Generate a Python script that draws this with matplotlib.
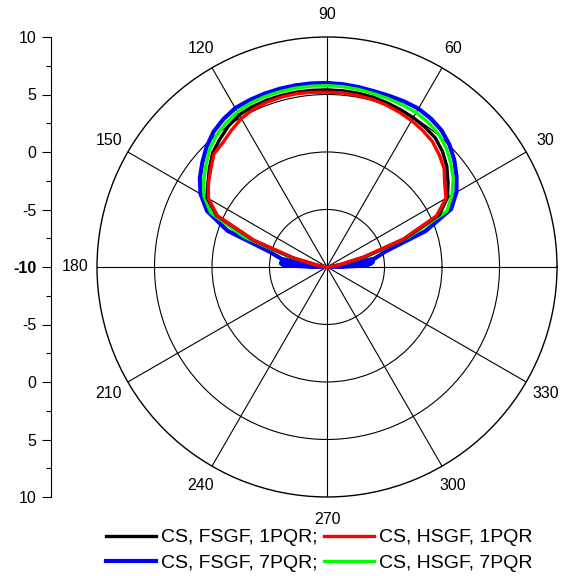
import numpy as np
import matplotlib
matplotlib.use('Agg')
import matplotlib.pyplot as plt

plt.rcParams['font.family'] = ['Liberation Sans', 'DejaVu Sans']

# angles in degrees, gain in dB
angles = [0, 5, 10, 15, 20, 25, 30, 35, 40, 45, 50, 55, 60, 65, 70, 75, 80, 85, 90,
          95, 100, 105, 110, 115, 120, 125, 130, 135, 140, 145, 150, 155, 160, 165, 170, 175, 180]

cs_fsgf_1pqr = [-10, -9.7, -8.8, -6.6, -2.8, 0.8, 2.1, 2.85, 3.6, 4.2, 4.65, 4.85, 5.0, 5.1, 5.2, 5.3, 5.35, 5.38, 5.4,
                5.42, 5.43, 5.43, 5.42, 5.38, 5.27, 4.95, 4.5, 4.05, 3.35, 2.65, 2.05, 0.6, -3.2, -6.9, -9.2, -10, -10]

cs_hsgf_1pqr = [-10, -9.7, -8.9, -6.8, -3.0, 0.5, 1.95, 2.5, 3.3, 3.8, 4.25, 4.5, 4.7, 4.85, 5.0, 5.1, 5.15, 5.2, 5.2,
                5.25, 5.3, 5.3, 5.25, 5.15, 4.9, 4.5, 4.1, 3.9, 3.2, 2.6, 1.9, 0.5, -3.3, -7.0, -9.2, -10, -10]

cs_hsgf_7pqr = [-10, -9.7, -8.6, -6.3, -2.5, 1.5, 2.55, 3.4, 4.05, 4.65, 5.1, 5.35, 5.5, 5.55, 5.57, 5.6, 5.68, 5.74, 5.77,
                5.78, 5.79, 5.78, 5.77, 5.72, 5.58, 5.3, 4.95, 4.45, 3.75, 3.1, 2.35, 1.15, -2.3, -6.5, -9.0, -10, -10]

blue_angles = [0, 1, 2, 3, 4, 5, 6, 7, 8, 9, 10, 15, 20, 25, 30, 35, 40, 45, 50, 55, 60, 65, 70, 75, 80, 85, 90,
               95, 100, 105, 110, 115, 120, 125, 130, 135, 140, 145, 150, 155, 160, 165, 170,
               171, 172, 173, 174, 175, 176, 177, 178, 179, 180]
cs_fsgf_7pqr = [-10, -9.5, -6.5, -9, -6.2, -8.5, -6, -8, -6, -7, -5.8, -4.7, -0.9, 1.9, 3.0, 3.75, 4.45, 5.05, 5.5, 5.75,
                5.9, 5.88, 5.83, 5.82, 5.88, 5.95, 6.0,
                6.02, 6.03, 6.03, 6.02, 6.0, 5.95, 5.7, 5.35, 4.8, 4.15, 3.5, 2.7, 1.5, -0.8, -4.8, -6.0,
                -8.5, -6.2, -8.8, -6.0, -8.5, -6.0, -9, -6.2, -9.5, -10]

fig = plt.figure(figsize=(5.74, 5.76), dpi=100)

ax = fig.add_axes([0.169, 0.1372, 0.8014, 0.7986], projection='polar')
ax.set_ylim(-10, 10)
ax.set_yticks([-5, 0, 5])
ax.set_yticklabels([])
ax.set_xticks(np.deg2rad(np.arange(0, 360, 30)))
ax.set_xticklabels([str(a) for a in range(0, 360, 30)], fontsize=11.5)
ax.set_xticks(np.deg2rad(np.arange(15, 360, 30)), minor=True)
ax.tick_params(axis='x', which='major', length=0, pad=9)
ax.tick_params(axis='x', which='minor', direction='in', length=5, width=0.8)
ax.tick_params(axis='y', length=0)
ax.grid(True, color='black', linewidth=0.8)
ax.spines['polar'].set_linewidth(1.0)

l_blue, = ax.plot(np.deg2rad(blue_angles), cs_fsgf_7pqr, color='#0000ff', lw=3.0)
l_green, = ax.plot(np.deg2rad(angles), cs_hsgf_7pqr, color='#00ff00', lw=2.4)
l_black, = ax.plot(np.deg2rad(angles), cs_fsgf_1pqr, color='black', lw=2.4)
l_red, = ax.plot(np.deg2rad(angles), cs_hsgf_1pqr, color='#ff0000', lw=2.4)

# left scale, Origin style
ax2 = fig.add_axes([51 / 574, 79 / 576, 0.0001, 460 / 576])
ax2.set_ylim(-20, 20)
ticks = np.arange(-20, 21, 5)
ax2.set_yticks(ticks)
ax2.set_yticklabels([str(abs(t) - 10) for t in ticks], fontsize=11.5)
for lab, t in zip(ax2.get_yticklabels(), ticks):
    if t == 0:
        lab.set_fontweight('bold')
ax2.set_yticks(np.arange(-17.5, 20, 5), minor=True)
ax2.tick_params(axis='y', which='major', length=6.5, width=0.8, pad=4)
ax2.tick_params(axis='y', which='minor', length=3.6, width=0.8)
ax2.set_xticks([])
for s in ['top', 'right', 'bottom']:
    ax2.spines[s].set_visible(False)
ax2.spines['left'].set_linewidth(0.8)
ax2.patch.set_visible(False)

fig.legend([l_black, l_blue, l_red, l_green],
           ['CS, FSGF, 1PQR;', 'CS, FSGF, 7PQR;', 'CS, HSGF, 1PQR', 'CS, HSGF, 7PQR'],
           ncol=2, loc='lower center', bbox_to_anchor=(0.556, -0.02), frameon=False,
           fontsize=14, handlelength=2.6, handletextpad=0.25, columnspacing=0.3,
           labelspacing=0.41, borderpad=0.3)

plt.savefig('out.png', dpi=100)
